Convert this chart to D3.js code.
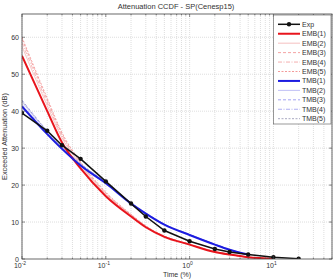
<!DOCTYPE html>
<html><head><meta charset="utf-8">
<script src="https://cdn.jsdelivr.net/npm/d3@7"></script>
<style>body{margin:0;background:#fff}svg{display:block}text{font-family:"Liberation Sans",Arial,sans-serif}</style>
</head><body>
<svg id="c" width="336" height="280"></svg>
<script>
const timeExp = [0.01,0.02,0.03,0.05,0.1,0.2,0.3,0.5,1,2,3,5,10,20];
const attExp  = [39.5,34.7,30.8,27.1,21.0,15.0,11.5,7.7,4.8,2.7,1.9,1.2,0.5,0.1];
const timeModel = [0.01,0.02,0.03,0.05,0.1,0.2,0.3,0.5,1,2,3,5,10];
const emb1 = [55.0,40.0,31.5,24.5,17.0,11.5,8.6,6.0,3.9,1.9,1.2,0.5,0.1];
const emb2 = [57.5,41.5,32.8,25.4,17.5,11.8,8.8,6.1,3.9,1.9,1.2,0.5,0.1];
const emb3 = [59.5,43.0,33.8,26.0,17.9,12.0,8.9,6.2,4.0,2.0,1.2,0.5,0.1];
const emb4 = [58.5,42.3,33.3,25.7,17.7,11.9,8.8,6.1,3.9,1.9,1.2,0.5,0.1];
const emb5 = [60.0,43.5,34.2,26.3,18.1,12.1,9.0,6.2,4.0,2.0,1.2,0.5,0.1];
const timeTmb = [0.01,0.02,0.03,0.05,0.1,0.2,0.3,0.5,1,2,3,5];
const tmb1 = [41.3,33.8,29.8,25.3,20.5,15.0,12.3,9.3,6.5,3.9,2.5,1.2];
const tmb2 = [42.5,34.4,30.2,25.6,20.7,15.1,12.4,9.4,6.6,4.0,2.5,1.2];
const tmb3 = [43.0,34.7,30.4,25.8,20.8,15.2,12.5,9.4,6.6,4.0,2.6,1.2];
const tmb4 = [41.8,34.1,30.0,25.4,20.6,15.0,12.3,9.3,6.5,3.9,2.5,1.2];
const tmb5 = [42.8,34.6,30.3,25.7,20.8,15.1,12.4,9.4,6.6,4.0,2.5,1.2];
const legendLabels = ["Exp","EMB(1)","EMB(2)","EMB(3)","EMB(4)","EMB(5)","TMB(1)","TMB(2)","TMB(3)","TMB(4)","TMB(5)"];
const yTicks = [0,10,20,30,40,50,60];
const xTickExp = [-2,-1,0,1];

const svg = d3.select("#c");
const L=22, R=332, T=14, B=259;
const x = d3.scaleLog().domain([0.01,50]).range([L,R]);
const y = d3.scaleLinear().domain([0,66.3]).range([B,T]);

const minor=[];
[0.01,0.1,1,10].forEach(d=>{for(let k=1;k<10;k++){const v=d*k; if(v<=50) minor.push(v);}});
svg.append("g").selectAll("line").data(minor).join("line")
  .attr("x1",d=>x(d)).attr("x2",d=>x(d)).attr("y1",T).attr("y2",B)
  .attr("stroke","#c8c8c8").attr("stroke-width",0.6).attr("stroke-dasharray","1,1");
svg.append("g").selectAll("line").data(yTicks.slice(1)).join("line")
  .attr("x1",L).attr("x2",R).attr("y1",d=>y(d)).attr("y2",d=>y(d))
  .attr("stroke","#c8c8c8").attr("stroke-width",0.6).attr("stroke-dasharray","1,1");

svg.append("clipPath").attr("id","clip").append("rect").attr("x",L).attr("y",T).attr("width",R-L).attr("height",B-T);
const g = svg.append("g").attr("clip-path","url(#clip)");
const line = (xs)=>d3.line().x((d,i)=>x(xs[i])).y(d=>y(d)).curve(d3.curveMonotoneX);

const thin = [
  {d:emb2,xs:timeModel,c:"#f2b0b0",dash:null},
  {d:emb3,xs:timeModel,c:"#f08c8c",dash:"3,2"},
  {d:emb4,xs:timeModel,c:"#f09a9a",dash:"4,1.5,1,1.5"},
  {d:emb5,xs:timeModel,c:"#f08080",dash:"2,1.5"},
  {d:tmb2,xs:timeTmb,c:"#b0b0f2",dash:null},
  {d:tmb3,xs:timeTmb,c:"#8c8cf0",dash:"3,2"},
  {d:tmb4,xs:timeTmb,c:"#9a9af0",dash:"4,1.5,1,1.5"},
  {d:tmb5,xs:timeTmb,c:"#9090b0",dash:"2,1.5"}
];
thin.forEach(s=>{
  g.append("path").attr("d",line(s.xs)(s.d)).attr("fill","none").attr("stroke",s.c)
   .attr("stroke-width",0.7).attr("stroke-dasharray",s.dash);
});
g.append("path").attr("d",line(timeModel)(emb1)).attr("fill","none").attr("stroke","#e8141c").attr("stroke-width",2);
g.append("path").attr("d",line(timeTmb)(tmb1)).attr("fill","none").attr("stroke","#1c1ce0").attr("stroke-width",2);
g.append("path").attr("d",d3.line().x((d,i)=>x(timeExp[i])).y(d=>y(d))(attExp)).attr("fill","none").attr("stroke","#111").attr("stroke-width",1.5);
g.selectAll("circle").data(attExp).join("circle").attr("cx",(d,i)=>x(timeExp[i])).attr("cy",d=>y(d)).attr("r",2.2).attr("fill","#111");

svg.append("rect").attr("x",L).attr("y",T).attr("width",R-L).attr("height",B-T).attr("fill","none").attr("stroke","#444").attr("stroke-width",0.8);
yTicks.forEach(v=>{
  svg.append("line").attr("x1",L).attr("x2",L+3).attr("y1",y(v)).attr("y2",y(v)).attr("stroke","#444").attr("stroke-width",0.6);
  svg.append("line").attr("x1",R).attr("x2",R-3).attr("y1",y(v)).attr("y2",y(v)).attr("stroke","#444").attr("stroke-width",0.6);
  svg.append("text").attr("x",L-3).attr("y",y(v)+2.5).attr("text-anchor","end").attr("font-size",7).attr("fill","#333").text(v);
});
minor.forEach(v=>{
  const major = xTickExp.some(e=>Math.abs(Math.pow(10,e)-v)<1e-9);
  const len = major?3:1.5;
  svg.append("line").attr("x1",x(v)).attr("x2",x(v)).attr("y1",B).attr("y2",B-len).attr("stroke","#444").attr("stroke-width",0.6);
  svg.append("line").attr("x1",x(v)).attr("x2",x(v)).attr("y1",T).attr("y2",T+len).attr("stroke","#444").attr("stroke-width",0.6);
});
xTickExp.forEach(e=>{
  const t = svg.append("text").attr("x",x(Math.pow(10,e))-2).attr("y",268).attr("text-anchor","middle").attr("font-size",7).attr("fill","#333");
  t.append("tspan").text("10");
  t.append("tspan").attr("dy",-3).attr("font-size",5).text(e);
});
svg.append("text").attr("x",(L+R)/2).attr("y",277).attr("text-anchor","middle").attr("font-size",7).attr("fill","#333").text("Time (%)");
svg.append("text").attr("transform",`translate(7,${(T+B)/2}) rotate(-90)`).attr("text-anchor","middle").attr("font-size",7.3).attr("fill","#333").text("Exceeded Attenuation (dB)");
svg.append("text").attr("x",176).attr("y",9).attr("text-anchor","middle").attr("font-size",7.5).attr("fill","#333").text("Attenuation CCDF - SP(Cenesp15)");

const styles = [
  {c:"#111",w:1.5,dash:null,m:true},
  {c:"#e8141c",w:2,dash:null},
  ...thin.slice(0,4).map(s=>({c:s.c,w:0.8,dash:s.dash})),
  {c:"#1c1ce0",w:2,dash:null},
  ...thin.slice(4).map(s=>({c:s.c,w:0.8,dash:s.dash}))
];
const lg = svg.append("g");
lg.append("rect").attr("x",273.5).attr("y",15).attr("width",57.5).attr("height",109).attr("fill","#fff").attr("stroke","#555").attr("stroke-width",0.6);
legendLabels.forEach((lab,i)=>{
  const yy = 24.3 + i*9.44;
  const s = styles[i];
  lg.append("line").attr("x1",278).attr("x2",300).attr("y1",yy).attr("y2",yy).attr("stroke",s.c).attr("stroke-width",s.w).attr("stroke-dasharray",s.dash);
  if(s.m) lg.append("circle").attr("cx",289).attr("cy",yy).attr("r",2.2).attr("fill","#111");
  lg.append("text").attr("x",302).attr("y",yy+2.5).attr("font-size",7).attr("fill","#333").text(lab);
});
</script>
</body></html>
